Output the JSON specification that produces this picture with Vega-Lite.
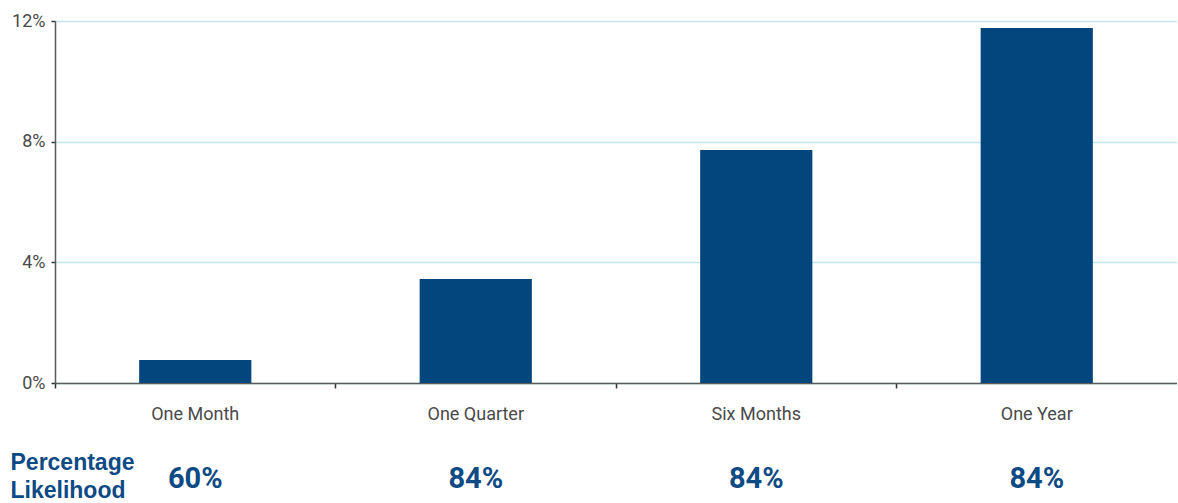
{
  "$schema": "https://vega.github.io/schema/vega-lite/v6.json",
  "background": "white",
  "padding": {"left": 10, "top": 12, "right": 0, "bottom": 0},
  "config": {
    "view": {"stroke": null},
    "concat": {"spacing": 28},
    "font": "Roboto, Liberation Sans, sans-serif"
  },
  "datasets": {
    "horizons": [
      {"horizon": "One Month", "return": 0.0076, "likelihood": "60%", "row": "Percentage Likelihood"},
      {"horizon": "One Quarter", "return": 0.0345, "likelihood": "84%", "row": "Percentage Likelihood"},
      {"horizon": "Six Months", "return": 0.0772, "likelihood": "84%", "row": "Percentage Likelihood"},
      {"horizon": "One Year", "return": 0.1177, "likelihood": "84%", "row": "Percentage Likelihood"}
    ]
  },
  "vconcat": [
    {
      "width": 1122,
      "height": 362,
      "data": {"name": "horizons"},
      "mark": {"type": "bar", "width": {"band": 0.4}, "color": "#03467d"},
      "encoding": {
        "x": {
          "field": "horizon",
          "type": "nominal",
          "sort": ["One Month", "One Quarter", "Six Months", "One Year"],
          "scale": {"paddingInner": 0, "paddingOuter": 0},
          "axis": {
            "title": null,
            "labelAngle": 0,
            "bandPosition": 0,
            "ticks": true,
            "tickSize": 5,
            "tickColor": "#333333",
            "tickWidth": 1.5,
            "domainColor": "#5a5a5a",
            "domainWidth": 1.5,
            "labelPadding": 17,
            "labelFontSize": 18,
            "labelColor": "#4a4a4a",
            "grid": false
          }
        },
        "y": {
          "field": "return",
          "type": "quantitative",
          "scale": {"domain": [0, 0.12]},
          "axis": {
            "title": null,
            "values": [0, 0.04, 0.08, 0.12],
            "format": ".0%",
            "grid": true,
            "gridColor": "#bfe6ee",
            "gridWidth": 1.5,
            "gridOpacity": 1,
            "tickSize": 4,
            "tickColor": "#333333",
            "tickWidth": 1.5,
            "domainColor": "#5a5a5a",
            "domainWidth": 1.5,
            "labelPadding": 6,
            "labelFontSize": 18,
            "labelColor": "#4a4a4a"
          }
        }
      }
    },
    {
      "width": 1122,
      "height": 50,
      "data": {"name": "horizons"},
      "mark": {"type": "text", "fontSize": 29, "fontWeight": "bold", "color": "#0e4a84"},
      "encoding": {
        "x": {
          "field": "horizon",
          "type": "nominal",
          "sort": ["One Month", "One Quarter", "Six Months", "One Year"],
          "scale": {"paddingInner": 0, "paddingOuter": 0},
          "axis": null
        },
        "y": {
          "field": "row",
          "type": "nominal",
          "axis": {
            "title": null,
            "ticks": false,
            "tickSize": 0,
            "domain": false,
            "labelAlign": "left",
            "labelPadding": 45,
            "labelOffset": -17,
            "labelExpr": "split(datum.label, ' ')",
            "labelFont": "Liberation Sans, Arial, sans-serif",
            "labelFontSize": 23,
            "labelFontWeight": "bold",
            "labelLineHeight": 28,
            "labelColor": "#0e4a84",
            "labelLimit": 300
          }
        },
        "text": {"field": "likelihood"}
      }
    }
  ]
}
